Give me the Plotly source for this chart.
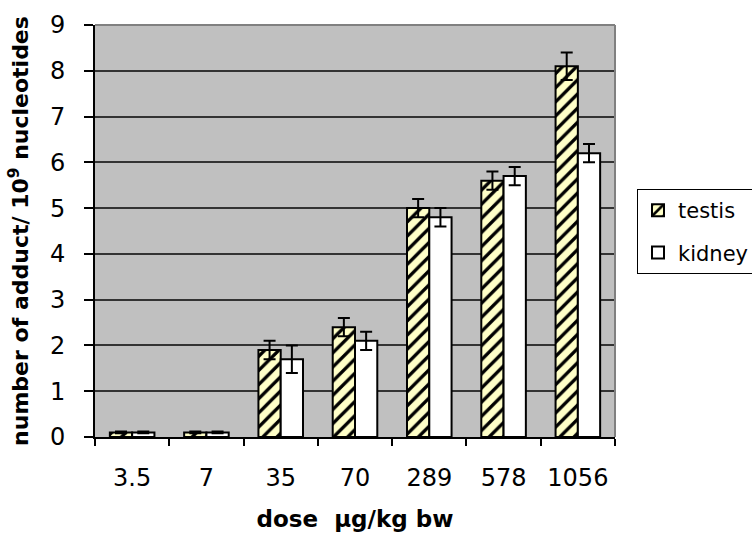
import plotly.graph_objects as go

doses = ["3.5", "7", "35", "70", "289", "578", "1056"]
testis = [0.1, 0.1, 1.9, 2.4, 5.0, 5.6, 8.1]
testis_err = [0.02, 0.02, 0.2, 0.2, 0.2, 0.2, 0.3]
kidney = [0.1, 0.1, 1.7, 2.1, 4.8, 5.7, 6.2]
kidney_err = [0.02, 0.02, 0.3, 0.2, 0.2, 0.2, 0.2]

FONT = "DejaVu Sans, Verdana, sans-serif"

fig = go.Figure()
fig.add_trace(go.Bar(
    name="testis", x=doses, y=testis, legendgroup="testis",
    marker=dict(color="#FFFFC8", line=dict(color="black", width=2),
                pattern=dict(shape="/", fgcolor="black", bgcolor="#FFFFC8",
                             fgopacity=1, size=10, solidity=0.33)),
    error_y=dict(type="data", array=testis_err, color="black", thickness=2, width=6),
))
fig.add_trace(go.Bar(
    name="kidney", x=doses, y=kidney, legendgroup="kidney",
    marker=dict(color="white", line=dict(color="black", width=2)),
    error_y=dict(type="data", array=kidney_err, color="black", thickness=2, width=6),
))

fig.update_layout(
    width=752, height=536,
    margin=dict(l=95, r=137, t=25, b=99),
    paper_bgcolor="white", plot_bgcolor="#C0C0C0",
    barmode="group", bargap=0.4, bargroupgap=0,
    font=dict(family=FONT, size=24, color="black"),
    showlegend=True,
    legend=dict(xref="container", yref="container", x=637 / 752, y=1 - 189 / 536,
                xanchor="left", yanchor="top",
                bordercolor="black", borderwidth=1, bgcolor="white",
                font=dict(size=21), itemwidth=30, tracegroupgap=12),
    shapes=[
        dict(type="line", xref="paper", yref="paper", x0=0, x1=1, y0=1, y1=1,
             line=dict(color="#808080", width=2)),
        dict(type="line", xref="paper", yref="paper", x0=1, x1=1, y0=0, y1=1,
             line=dict(color="#808080", width=2)),
    ],
)
fig.update_xaxes(
    type="category", showline=True, linecolor="black", linewidth=2, automargin=False,
    ticks="outside", tickson="boundaries", ticklen=7, tickwidth=1.5, tickcolor="black",
    showgrid=False, tickfont=dict(size=24), ticklabelstandoff=18,
    title=dict(text="<b>dose  µg/kg bw</b>", font=dict(size=23), standoff=20),
)
fig.update_yaxes(
    range=[0, 9], dtick=1, showline=True, linecolor="black", linewidth=2, automargin=False,
    ticks="outside", ticklen=9, tickwidth=1.5, tickcolor="black",
    showgrid=True, gridcolor="#333333", gridwidth=1.5, zeroline=False,
    tickfont=dict(size=24), ticklabelstandoff=14,
    title=dict(text="<b>number of adduct/ 10<sup>9</sup> nucleotides</b>",
               font=dict(size=22), standoff=15),
)

fig.write_html("out.html", config={"displayModeBar": False},
               post_script="document.body.style.margin='0';")
